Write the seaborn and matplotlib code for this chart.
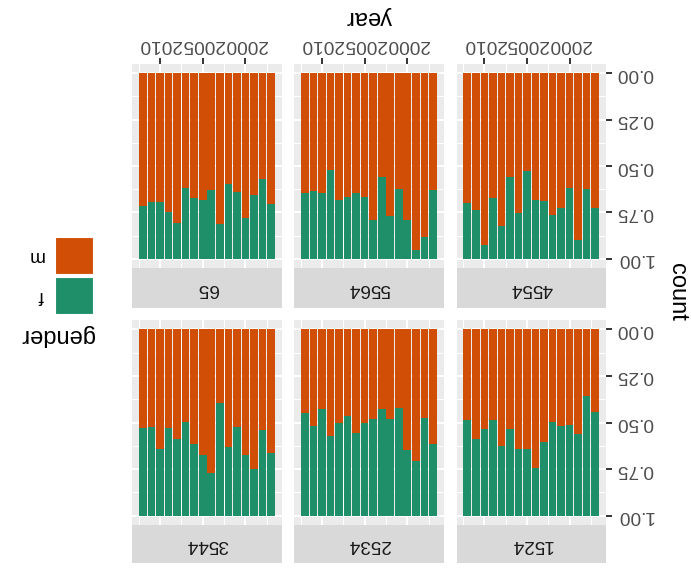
import pandas as pd
import matplotlib
matplotlib.use('Agg')
import matplotlib.pyplot as plt
from matplotlib.patches import Rectangle
import seaborn as sns

#%%
# data (share of male cases per year, female = rest)
years = list(range(1997, 2013))
genders = ['f', 'm']
gender_colors = ['#1f8f6a', '#d04e05']

m_1524 = [0.441, 0.360, 0.562, 0.512, 0.517, 0.497, 0.605, 0.746,
          0.640, 0.641, 0.533, 0.625, 0.488, 0.533, 0.587, 0.488]
m_2534 = [0.613, 0.474, 0.708, 0.647, 0.420, 0.483, 0.427, 0.479,
          0.503, 0.557, 0.465, 0.503, 0.575, 0.427, 0.519, 0.447]
m_3544 = [0.663, 0.542, 0.748, 0.672, 0.524, 0.631, 0.395, 0.769,
          0.672, 0.618, 0.497, 0.586, 0.532, 0.643, 0.524, 0.532]
m_4554 = [0.728, 0.624, 0.898, 0.618, 0.724, 0.765, 0.690, 0.685,
          0.529, 0.753, 0.561, 0.821, 0.670, 0.928, 0.735, 0.699]
m_5564 = [0.631, 0.885, 0.952, 0.792, 0.624, 0.767, 0.559, 0.789,
          0.668, 0.643, 0.668, 0.681, 0.522, 0.643, 0.636, 0.643]
m_65 = [0.703, 0.568, 0.658, 0.781, 0.642, 0.599, 0.814, 0.631,
        0.685, 0.674, 0.618, 0.810, 0.746, 0.695, 0.692, 0.715]

m_share = {'1524': m_1524, '2534': m_2534, '3544': m_3544,
           '4554': m_4554, '5564': m_5564, '65': m_65}

rows = []
for age, vals in m_share.items():
    for yr, v in zip(years, vals):
        rows.append({'age': age, 'year': yr, 'gender': 'f', 'share': 1 - v})
        rows.append({'age': age, 'year': yr, 'gender': 'm', 'share': v})
df = pd.DataFrame(rows)

#%%
plt.rcParams['font.family'] = ['Liberation Sans', 'DejaVu Sans']

W, H = 691, 572
fig = plt.figure(figsize=(W / 100, H / 100), dpi=100)


def rect(x0, y0, x1, y1):
    # pixel box (image coords, y down) -> figure fraction
    return [x0 / W, 1 - y1 / H, (x1 - x0) / W, (y1 - y0) / H]


# the whole chart is shown turned upside down
col_px = [(132.3, 281.7), (294.3, 443.5), (456.7, 605.7)]
row_px = [(64, 268), (320, 525)]
strip_px = [(268, 308), (525, 563)]
layout = [['65', '5564', '4554'],
          ['3544', '2534', '1524']]

tick_size = 13.7
title_size = 17
grey30 = '#4d4d4d'

for r, row_ages in enumerate(layout):
    for c, age in enumerate(row_ages):
        x0, x1 = col_px[c]
        y0, y1 = row_px[r]
        ax = fig.add_axes(rect(x0, y0, x1, y1))
        sub = df[df['age'] == age]
        sns.histplot(data=sub, x='year', hue='gender', weights='share',
                     multiple='fill', discrete=True, shrink=0.9,
                     hue_order=genders, palette=gender_colors, alpha=1,
                     linewidth=0, legend=False, ax=ax)
        ax.set_facecolor('#ebebeb')
        ax.set_xlim(2013.245, 1995.755)
        ax.set_ylim(1.05, -0.05)
        ax.set_xlabel('')
        ax.set_ylabel('')
        for s in ax.spines.values():
            s.set_visible(False)

        ax.set_xticks([2000, 2005, 2010])
        ax.set_xticks([1997.5, 2002.5, 2007.5, 2012.5], minor=True)
        ax.set_yticks([0, 0.25, 0.5, 0.75, 1.0])
        ax.set_yticks([0.125, 0.375, 0.625, 0.875], minor=True)
        ax.set_yticklabels(['0.00', '0.25', '0.50', '0.75', '1.00'])
        ax.set_axisbelow(True)
        ax.grid(which='major', color='white', linewidth=1.5)
        ax.grid(which='minor', color='white', linewidth=0.75)

        ax.xaxis.tick_top()
        ax.yaxis.tick_right()
        ax.tick_params(which='minor', length=0)
        ax.tick_params(which='major', length=4.3, width=1.4, color='#333333',
                       pad=3.4, labelsize=tick_size, labelcolor=grey30,
                       labelrotation=180)
        ax.tick_params(axis='x', top=(r == 0), labeltop=(r == 0),
                       bottom=False, labelbottom=False)
        ax.tick_params(axis='y', right=(c == 2), labelright=(c == 2),
                       left=False, labelleft=False)
        for lab in ax.get_yticklabels():
            lab.set_va('center')

        # facet strip
        sy0, sy1 = strip_px[r]
        sax = fig.add_axes(rect(x0, sy0, x1, sy1))
        sax.set_facecolor('#d9d9d9')
        sax.set_xticks([])
        sax.set_yticks([])
        for s in sax.spines.values():
            s.set_visible(False)
        sax.text(0.5, 0.5, age, ha='center', va='center', rotation=180,
                 fontsize=tick_size, color='#1a1a1a', transform=sax.transAxes)

# axis titles
fig.text(369 / W, 1 - 17 / H, 'year', ha='center', va='center',
         rotation=180, fontsize=title_size)
fig.text(677 / W, 1 - 292 / H, 'count', ha='center', va='center',
         rotation=270, fontsize=title_size)

# legend (drawn by hand so it can be turned too)
keys = [('m', gender_colors[1], 237), ('f', gender_colors[0], 277.3)]
for lab, col, ky in keys:
    fig.add_artist(Rectangle((55 / W, 1 - (ky + 37) / H), 37.7 / W, 37 / H,
                             transform=fig.transFigure, facecolor=col,
                             edgecolor='white', linewidth=0.8))
    fig.text(44 / W, 1 - (ky + 18.5) / H, lab, ha='right', va='center',
             rotation=180, fontsize=tick_size)
fig.text(94 / W, 1 - 324 / H, 'gender', ha='right', va='top',
         rotation=180, fontsize=title_size)

fig.savefig('out.png', dpi=100)
